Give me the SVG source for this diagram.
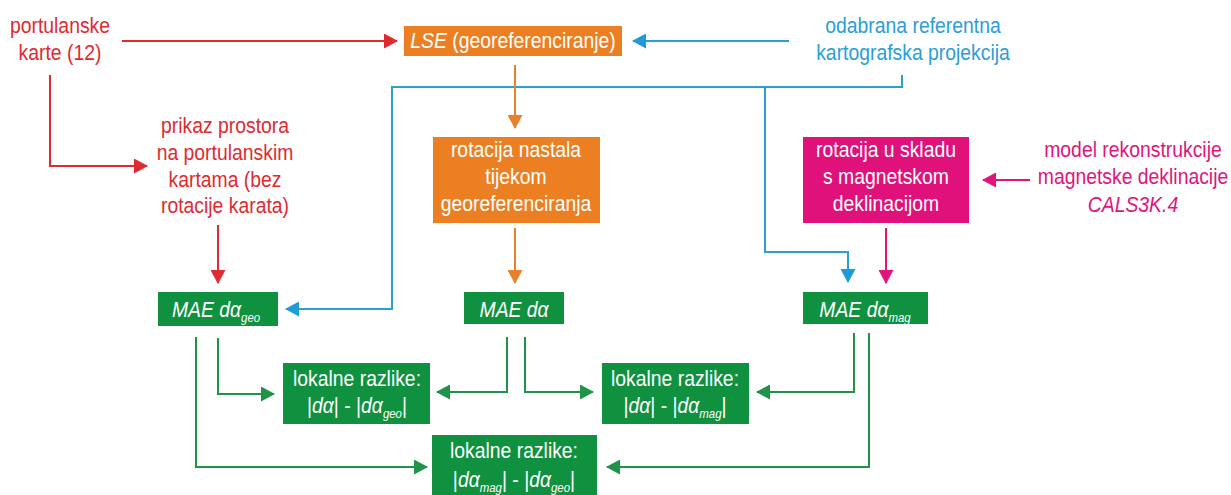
<svg xmlns="http://www.w3.org/2000/svg" width="1231" height="495" viewBox="0 0 1231 495">
<style>
text{font-family:"Liberation Sans",Arial,sans-serif;font-size:22px;text-anchor:middle;transform:scaleX(0.88);transform-box:fill-box;transform-origin:center}
.red{fill:#de2a30}.blu{fill:#2a9ed8}.mag{fill:#e0147b}.w{fill:#fff}
.it{font-style:italic}
.sub{font-size:13px;font-style:italic}
.c{fill:none;stroke-width:2}
.cr{stroke:#de2a30}.cb{stroke:#2a9ed8}.co{stroke:#e8812a}.cm{stroke:#e0147b}.cg{stroke:#1f9448}
.bo{fill:#ec7f22}.bm{fill:#e0117a}.bg{fill:#0f9140}
</style>
<defs>
<marker id="ar" markerUnits="userSpaceOnUse" markerWidth="14" markerHeight="15" refX="13" refY="7.5" orient="auto"><path d="M0,0 L14,7.5 L0,15 z" fill="#de2a30"/></marker>
<marker id="ab" markerUnits="userSpaceOnUse" markerWidth="14" markerHeight="15" refX="13" refY="7.5" orient="auto"><path d="M0,0 L14,7.5 L0,15 z" fill="#1f9bd8"/></marker>
<marker id="ao" markerUnits="userSpaceOnUse" markerWidth="14" markerHeight="15" refX="13" refY="7.5" orient="auto"><path d="M0,0 L14,7.5 L0,15 z" fill="#e8812a"/></marker>
<marker id="am" markerUnits="userSpaceOnUse" markerWidth="14" markerHeight="15" refX="13" refY="7.5" orient="auto"><path d="M0,0 L14,7.5 L0,15 z" fill="#e0147b"/></marker>
<marker id="ag" markerUnits="userSpaceOnUse" markerWidth="14" markerHeight="15" refX="13" refY="7.5" orient="auto"><path d="M0,0 L14,7.5 L0,15 z" fill="#1f9448"/></marker>
</defs>
<g id="connectors">
<path class="c cr" d="M122,41 H397" marker-end="url(#ar)"/>
<path class="c cr" d="M50,75 V166 H147" marker-end="url(#ar)"/>
<path class="c cr" d="M218,225 V283" marker-end="url(#ar)"/>
<path class="c cb" d="M789,41 H633" marker-end="url(#ab)"/>
<path class="c cb" d="M902,75 V87 H392 V309 H286" marker-end="url(#ab)"/>
<path class="c cb" d="M765,87 V252 H848 V282" marker-end="url(#ab)"/>
<path class="c co" d="M515,65 V128" marker-end="url(#ao)"/>
<path class="c co" d="M515,228 V283" marker-end="url(#ao)"/>
<path class="c cm" d="M1030,180 H983" marker-end="url(#am)"/>
<path class="c cm" d="M886,228 V283" marker-end="url(#am)"/>
<path class="c cg" d="M218,338 V394 H274" marker-end="url(#ag)"/>
<path class="c cg" d="M196,337 V467 H427" marker-end="url(#ag)"/>
<path class="c cg" d="M507,337 V392 H437" marker-end="url(#ag)"/>
<path class="c cg" d="M525,337 V392 H593" marker-end="url(#ag)"/>
<path class="c cg" d="M854,333 V392 H757" marker-end="url(#ag)"/>
<path class="c cg" d="M869,333 V467 H607" marker-end="url(#ag)"/>
</g>
<g id="portulanske"><text class="red" x="60" y="33">portulanske</text><text class="red" x="60" y="60">karte (12)</text></g>
<g id="lse"><rect class="bo" x="404" y="26" width="218" height="30"/><text class="w" x="513" y="48"><tspan class="it">LSE</tspan> (georeferenciranje)</text></g>
<g id="odabrana"><text class="blu" x="913" y="33">odabrana referentna</text><text class="blu" x="913" y="60">kartografska projekcija</text></g>
<g id="prikaz"><text class="red" x="225" y="133">prikaz prostora</text><text class="red" x="225" y="160">na portulanskim</text><text class="red" x="225" y="187">kartama (bez</text><text class="red" x="225" y="213">rotacije karata)</text></g>
<g id="rotacija-geo"><rect class="bo" x="433" y="137" width="167" height="86"/><text class="w" x="516" y="157">rotacija nastala</text><text class="w" x="516" y="184">tijekom</text><text class="w" x="516" y="211">georeferenciranja</text></g>
<g id="rotacija-mag"><rect class="bm" x="803" y="137" width="166" height="86"/><text class="w" x="886" y="157">rotacija u skladu</text><text class="w" x="886" y="184">s magnetskom</text><text class="w" x="886" y="211">deklinacijom</text></g>
<g id="model"><text class="mag" x="1133" y="157">model rekonstrukcije</text><text class="mag" x="1133" y="184">magnetske deklinacije</text><text class="mag it" x="1133" y="212">CALS3K.4</text></g>
<g id="mae-geo"><rect class="bg" x="158" y="292" width="120" height="34"/><text class="w it" x="216" y="317">MAE dα<tspan class="sub" dy="5">geo</tspan></text></g>
<g id="mae"><rect class="bg" x="464" y="292" width="100" height="32"/><text class="w it" x="514" y="317">MAE dα</text></g>
<g id="mae-mag"><rect class="bg" x="803" y="292" width="125" height="32"/><text class="w it" x="865" y="317">MAE dα<tspan class="sub" dy="5">mag</tspan></text></g>
<g id="lok1"><rect class="bg" x="283" y="363" width="147" height="61"/><text class="w" x="357" y="386">lokalne razlike:</text><text class="w" x="357" y="413">|<tspan class="it">dα</tspan>| - |<tspan class="it">dα</tspan><tspan class="sub" dy="5">geo</tspan><tspan dy="-5">|</tspan></text></g>
<g id="lok2"><rect class="bg" x="602" y="363" width="147" height="61"/><text class="w" x="675" y="386">lokalne razlike:</text><text class="w" x="675" y="413">|<tspan class="it">dα</tspan>| - |<tspan class="it">dα</tspan><tspan class="sub" dy="5">mag</tspan><tspan dy="-5">|</tspan></text></g>
<g id="lok3"><rect class="bg" x="432" y="435" width="165" height="60"/><text class="w" x="514" y="458">lokalne razlike:</text><text class="w" x="514" y="487">|<tspan class="it">dα</tspan><tspan class="sub" dy="5">mag</tspan><tspan dy="-5">| - |</tspan><tspan class="it">dα</tspan><tspan class="sub" dy="5">geo</tspan><tspan dy="-5">|</tspan></text></g>
</svg>
